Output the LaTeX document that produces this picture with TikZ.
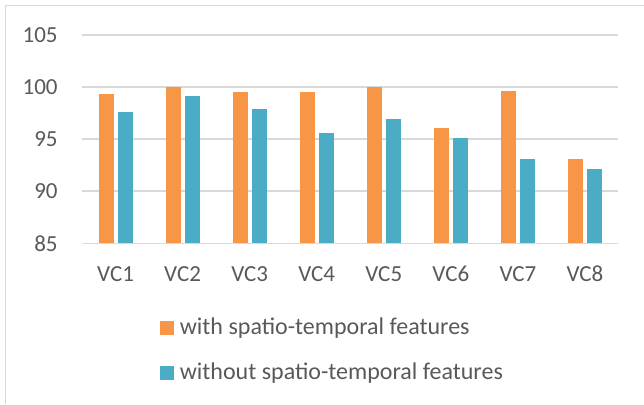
\documentclass[tikz,border=0pt]{standalone}
\usepackage{fontspec}
\setmainfont{Carlito}
\usepackage{tikz}
\usetikzlibrary{positioning}

\definecolor{withcol}{HTML}{F79646}
\definecolor{withoutcol}{HTML}{4BACC6}
\definecolor{gridcol}{HTML}{D9D9D9}
\definecolor{textcol}{HTML}{595959}

\begin{document}
\begin{tikzpicture}[
    x=0.5pt, y=0.5pt,
    frame/.style={draw=gridcol, line width=0.75pt},
    gridline/.style={draw=gridcol, line width=0.75pt},
    withbar/.style={fill=withcol},
    withoutbar/.style={fill=withoutcol},
    ylab/.style={anchor=east, inner sep=0pt, xshift=-12pt, text=textcol, font=\fontsize{11.5}{13}\selectfont},
    xlab/.style={inner sep=0pt, text=textcol, font=\fontsize{11.5}{13}\selectfont},
    legbox/.style={minimum width=6.85pt, minimum height=7pt, inner sep=0pt},
    legtext/.style={inner sep=0pt, text=textcol, font=\fontsize{12}{14}\selectfont},
]
\useasboundingbox (0,0) rectangle (644,404);
\draw[frame] (5.5,0) -- (5.5,398.5) -- (644,398.5);

\begin{scope}[x=33.53pt, y=5.2075pt, shift={(41pt,-362.29pt)}]
% value axis
\draw[gridline] (0,105) -- (8,105);
\draw[gridline] (0,100) -- (8,100);
\draw[gridline] (0,95) -- (8,95);
\draw[gridline] (0,90) -- (8,90);
\draw[gridline] (0,85) -- (8,85);
\node[ylab] (y105) at (0,105) {105};
\node[ylab] (y100) at (0,100) {100};
\node[ylab] (y95) at (0,95) {95};
\node[ylab] (y90) at (0,90) {90};
\node[ylab] (y85) at (0,85) {85};

% bars
\fill[withbar] (0.25,85) rectangle (0.475,99.3);
\fill[withoutbar] (0.53,85) rectangle (0.755,97.6);
\fill[withbar] (1.25,85) rectangle (1.475,100);
\fill[withoutbar] (1.53,85) rectangle (1.755,99.1);
\fill[withbar] (2.25,85) rectangle (2.475,99.5);
\fill[withoutbar] (2.53,85) rectangle (2.755,97.9);
\fill[withbar] (3.25,85) rectangle (3.475,99.5);
\fill[withoutbar] (3.53,85) rectangle (3.755,95.6);
\fill[withbar] (4.25,85) rectangle (4.475,100);
\fill[withoutbar] (4.53,85) rectangle (4.755,96.9);
\fill[withbar] (5.25,85) rectangle (5.475,96.1);
\fill[withoutbar] (5.53,85) rectangle (5.755,95.1);
\fill[withbar] (6.25,85) rectangle (6.475,99.6);
\fill[withoutbar] (6.53,85) rectangle (6.755,93.1);
\fill[withbar] (7.25,85) rectangle (7.475,93.1);
\fill[withoutbar] (7.53,85) rectangle (7.755,92.1);

% categories
\node[xlab] (vc1) at (0.5,82.05) {VC1};
\node[xlab] (vc2) at (1.5,82.05) {VC2};
\node[xlab] (vc3) at (2.5,82.05) {VC3};
\node[xlab] (vc4) at (3.5,82.05) {VC4};
\node[xlab] (vc5) at (4.5,82.05) {VC5};
\node[xlab] (vc6) at (5.5,82.05) {VC6};
\node[xlab] (vc7) at (6.5,82.05) {VC7};
\node[xlab] (vc8) at (7.5,82.05) {VC8};
\end{scope}

% legend
\node[legbox, fill=withcol] (legwith) at (166.85,76) {};
\node[legtext, right=2.65pt of legwith] (legwithtext) {with spatio-temporal features};
\node[legbox, fill=withoutcol] (legwithout) at (166.85,31) {};
\node[legtext, right=2.65pt of legwithout] (legwithouttext) {without spatio-temporal features};
\end{tikzpicture}
\end{document}
